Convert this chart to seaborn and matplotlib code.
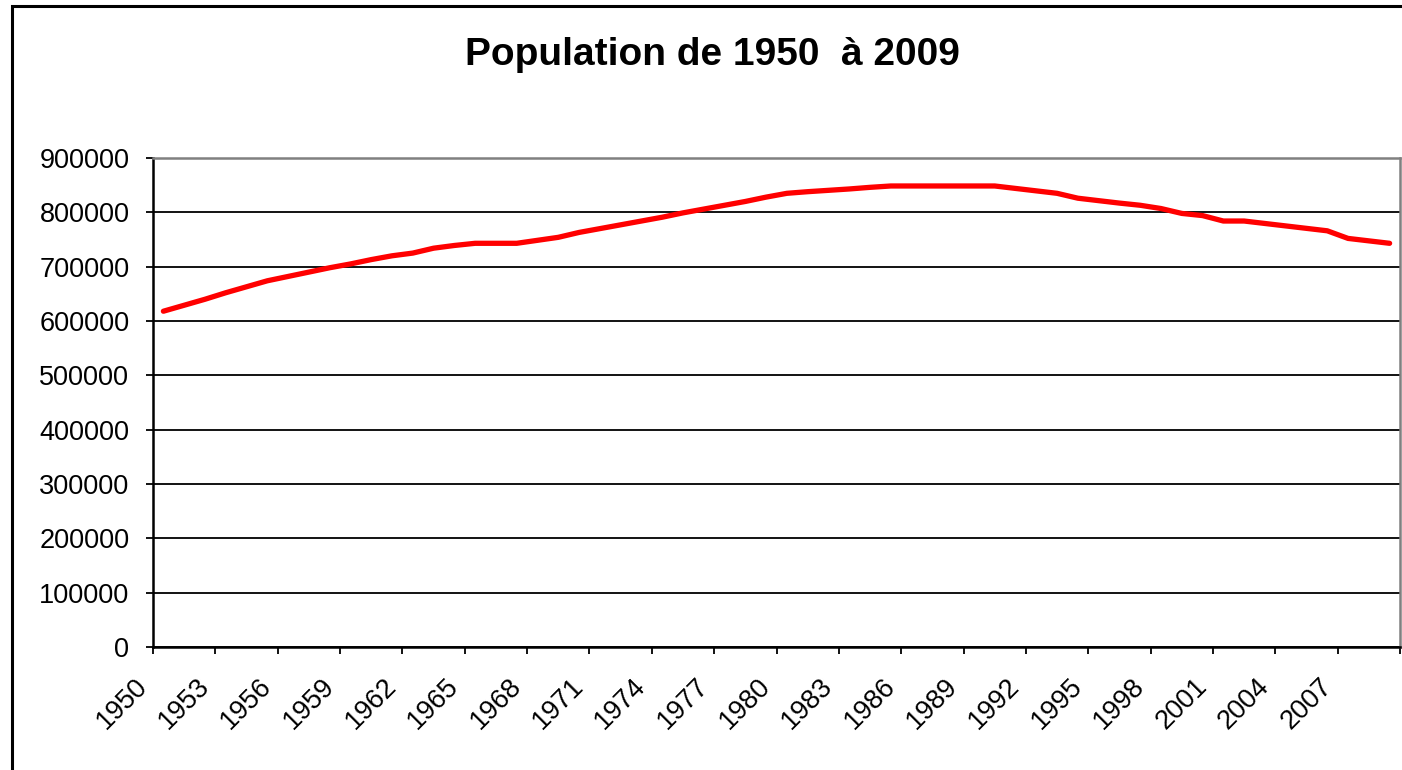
import matplotlib
matplotlib.use("Agg")
import matplotlib.pyplot as plt
import matplotlib.transforms as mtransforms
from matplotlib.patches import Rectangle
import seaborn as sns
import pandas as pd

# Data
years = list(range(1950, 2010))
population = [
    618000, 629000, 640000, 652000, 663000, 674000, 682000, 690000, 698000, 705000,
    713000, 720000, 725000, 734000, 739000, 743000, 743000, 743000, 748500, 754000,
    763000, 770000, 777000, 784000, 791000, 799000, 806000, 813000, 820000, 828000,
    835000, 838000, 840500, 843000, 846000, 848500, 848500, 848500, 848500, 848500,
    848500, 844000, 839500, 835000, 826000, 821500, 817000, 813000, 807000, 798000,
    794000, 784000, 784000, 779500, 775000, 770500, 766000, 752000, 747500, 743000,
]
title = "Population de 1950  à 2009"
y_ticks = list(range(0, 900001, 100000))
tick_years = years[::3]

df = pd.DataFrame({"idx": range(len(years)), "population": population})

sns.set_style("white")
plt.rcParams["font.family"] = ["Liberation Sans", "DejaVu Sans"]
plt.rcParams["text.color"] = "black"

fig = plt.figure(figsize=(14.02, 7.70), dpi=100)
ax = fig.add_axes([153 / 1402, 123 / 770, 1247 / 1402, 489 / 770])

# outer chart frame (cut off at right and bottom like the screenshot)
fig.patches.append(Rectangle((12 / 1402, -0.05), 1.2, (770 - 6) / 770 + 0.05,
                             transform=fig.transFigure, fill=False,
                             edgecolor="black", linewidth=2.2))

sns.lineplot(data=df, x="idx", y="population", ax=ax, color="#ff0000",
             linewidth=3.8, zorder=3)

ax.set_xlim(-0.5, len(years) - 0.5)
ax.set_ylim(0, 900000)
ax.set_yticks(y_ticks)
ax.set_yticklabels([str(v) for v in y_ticks])
ax.yaxis.grid(True, color="black", linewidth=1.3)
ax.set_axisbelow(True)

ax.tick_params(axis="y", direction="out", length=5, width=1.3, pad=12,
               labelsize=19.5, left=True, colors="black")
ax.tick_params(axis="x", direction="out", length=5, width=1.3, pad=14,
               labelsize=19.5, bottom=True, colors="black")

xt = [i - 0.5 for i in range(0, len(years) + 1, 3)]
ax.set_xticks(xt)
ax.set_xticklabels([str(y) for y in tick_years] + [""], rotation=45,
                   ha="right", va="top", rotation_mode="anchor")
# shift rotated labels left, as in the original
offset = mtransforms.ScaledTranslation(-19 / 100, 0, fig.dpi_scale_trans)
for lab in ax.xaxis.get_majorticklabels():
    lab.set_transform(lab.get_transform() + offset)

ax.set_xlabel("")
ax.set_ylabel("")
for side in ["left", "bottom"]:
    ax.spines[side].set_color("black")
    ax.spines[side].set_linewidth(1.8)
for side in ["top", "right"]:
    ax.spines[side].set_visible(True)
    ax.spines[side].set_color("#808080")
    ax.spines[side].set_linewidth(1.8)

fig.text(712 / 1402, 1 - 55 / 770, title, ha="center", va="center",
         fontsize=28, fontweight="bold", color="black")

fig.savefig("out.png", dpi=100)
